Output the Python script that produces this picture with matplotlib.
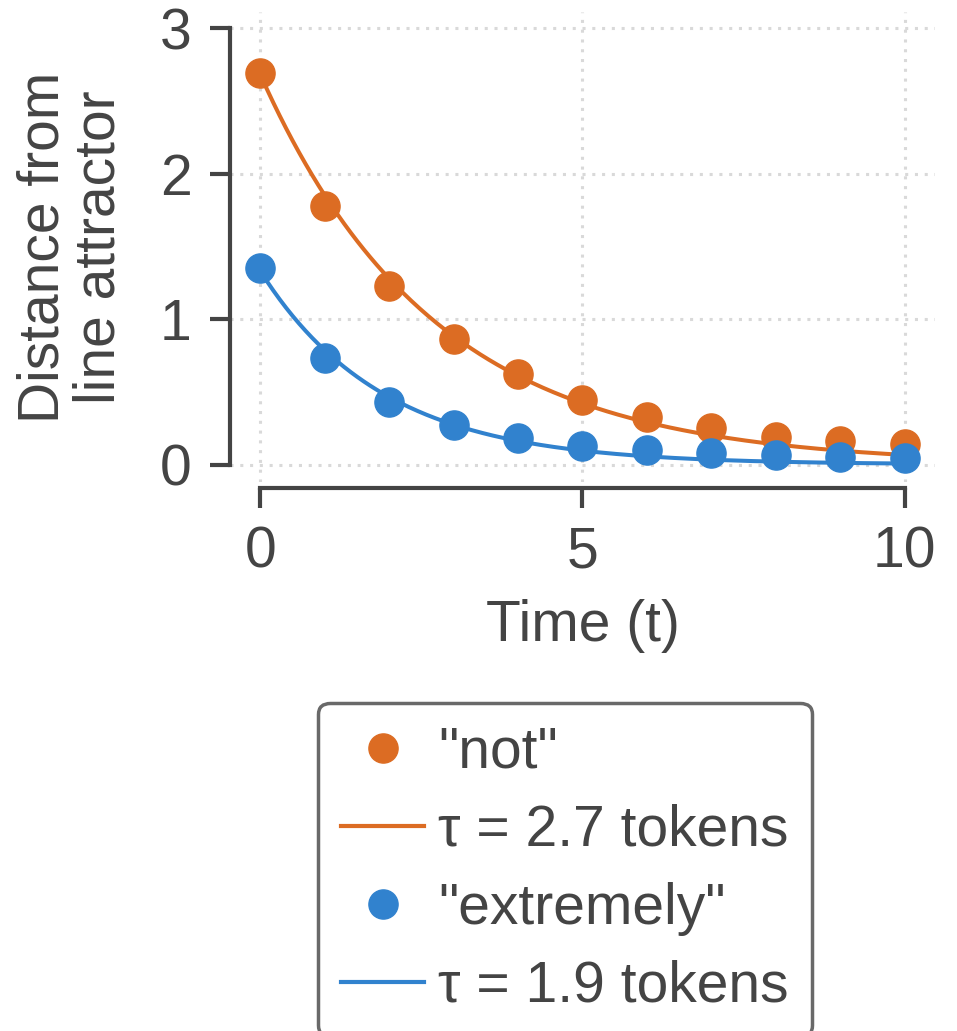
import numpy as np
import matplotlib
matplotlib.use("Agg")
import matplotlib.pyplot as plt
from matplotlib.lines import Line2D

# distance from the line attractor at each token step
t = np.arange(11)
not_dist = [2.69, 1.78, 1.23, 0.865, 0.62, 0.445, 0.33, 0.25, 0.19, 0.16, 0.14]
extremely_dist = [1.35, 0.73, 0.43, 0.27, 0.18, 0.13, 0.10, 0.08, 0.064, 0.053, 0.046]

# exponential fits: amplitude and time constant (tokens)
not_amp, not_tau = 2.68, 2.7
ext_amp, ext_tau = 1.33, 1.9

orange = "#DC6C23"
blue = "#3182CE"
grey = "#444444"
fs = 41

plt.rcParams["font.family"] = ["Liberation Sans", "DejaVu Sans"]
plt.rcParams["text.color"] = grey
plt.rcParams["axes.labelcolor"] = grey
plt.rcParams["xtick.color"] = grey
plt.rcParams["ytick.color"] = grey

fig = plt.figure(figsize=(9.57, 10.31), dpi=100)
ax = fig.add_axes([230 / 957, 1 - 482 / 1031, 705 / 957, 470 / 1031])

tt = np.linspace(0, 10, 300)
ax.plot(tt, not_amp * np.exp(-tt / not_tau), color=orange, lw=2.9, zorder=3)
ax.plot(tt, ext_amp * np.exp(-tt / ext_tau), color=blue, lw=2.9, zorder=3)
ax.plot(t, not_dist, "o", color=orange, ms=21, zorder=4, clip_on=False)
ax.plot(t, extremely_dist, "o", color=blue, ms=21, zorder=4, clip_on=False)

ax.set_xlim(-0.47, 10.47)
ax.set_ylim(-0.12, 3.11)
ax.set_xticks([0, 5, 10])
ax.set_yticks([0, 1, 2, 3])
ax.grid(True, ls=(0, (1, 2.2)), lw=2.2, color="#d9d9d9")

for s in ["top", "right"]:
    ax.spines[s].set_visible(False)
ax.spines["left"].set_bounds(0, 3)
ax.spines["bottom"].set_bounds(0, 10)
ax.spines["bottom"].set_position(("outward", 4))
for s in ["left", "bottom"]:
    ax.spines[s].set_linewidth(3)
    ax.spines[s].set_color(grey)
ax.tick_params(length=14.5, width=3, labelsize=fs, pad=13)

ax.set_xlabel("Time (t)", fontsize=fs, labelpad=14)
ax.set_ylabel("Distance from\nline attractor", fontsize=fs, labelpad=24, linespacing=1.06)

handles = [
    Line2D([], [], ls="none", marker="o", ms=21, color=orange),
    Line2D([], [], color=orange, lw=3),
    Line2D([], [], ls="none", marker="o", ms=21, color=blue),
    Line2D([], [], color=blue, lw=3),
]
labels = ['"not"', "τ = 2.7 tokens", '"extremely"', "τ = 1.9 tokens"]
leg = fig.legend(handles, labels, loc="upper center",
                 bbox_to_anchor=(565 / 957, 1 - 703 / 1031),
                 fontsize=fs, frameon=True, fancybox=True,
                 handlelength=1.46, handletextpad=0.25, labelspacing=0.42,
                 borderpad=0.4, borderaxespad=0)
leg.get_frame().set_edgecolor(grey)
leg.get_frame().set_linewidth(2.5)

fig.savefig("out.png", dpi=100)
